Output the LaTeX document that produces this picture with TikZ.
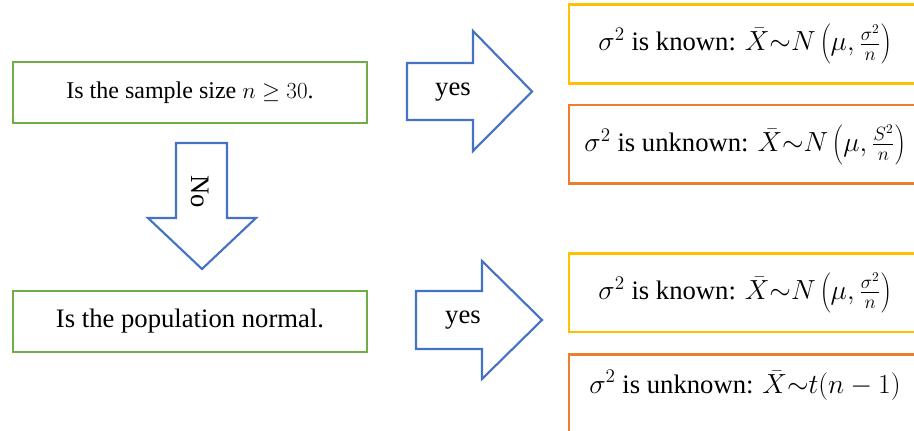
\documentclass[tikz,border=0pt]{standalone}
\usepackage{fontspec}
\setmainfont{Liberation Serif}[Ligatures=TeX]
\newfontfamily\timesfont{Liberation Serif}
\definecolor{bxgreen}{HTML}{70AD47}
\definecolor{bxyellow}{HTML}{FFC000}
\definecolor{bxorange}{HTML}{ED7D31}
\definecolor{arblue}{HTML}{4472C4}
\tikzset{
  gbox/.style={draw=bxgreen, line width=2pt, minimum width=265.5pt, minimum height=45.75pt, inner sep=0pt, font=\timesfont\fontsize{20}{24}\selectfont},
  ybox/.style={draw=bxyellow, line width=2pt, minimum width=264pt, minimum height=59pt, inner sep=0pt, font=\timesfont\fontsize{20}{24}\selectfont},
  obox/.style={draw=bxorange, line width=2pt, minimum width=264pt, minimum height=59pt, inner sep=0pt, font=\timesfont\fontsize{20}{24}\selectfont},
  blockarrow/.style={draw=arblue, line width=1.6pt, line join=miter, fill=white},
  lbl/.style={inner sep=0pt, font=\timesfont\fontsize{20}{24}\selectfont},
}
\begin{document}
\begin{tikzpicture}[x=0.75pt, y=-0.75pt]
\useasboundingbox (0,0) rectangle (914,431);
\clip (0,0) rectangle (914,431);
% left boxes
\node[gbox, font=\timesfont\fontsize{18}{22}\selectfont] (q1) at (190,92.5) {Is the sample size $n \geq 30$.};
\node[gbox] (q2) at (190,321.5) {Is the population normal.};
% right boxes
\node[ybox] (a) at (745,44) {$\sigma^2$ is known: $\bar{X}{\sim}N\left(\mu,\frac{\sigma^2}{n}\right)$};
\node[obox] (b) at (745,144.5) {$\sigma^2$ is unknown: $\bar{X}{\sim}N\left(\mu,\frac{S^2}{n}\right)$};
\node[ybox] (c) at (745,292.5) {$\sigma^2$ is known: $\bar{X}{\sim}N\left(\mu,\frac{\sigma^2}{n}\right)$};
\node[obox, anchor=north, minimum height=0pt, text height=29pt, text depth=46pt] (d) at (745,353) {$\sigma^2$ is unknown: $\bar{X}{\sim}t(n-1)$};
% block arrows
\draw[blockarrow] (407,63) -- (473,63) -- (473,31) -- (532,91.5) -- (473,151) -- (473,120) -- (407,120) -- cycle;
\node[lbl] (y1) at (453,92) {yes};
\draw[blockarrow] (176,143) -- (227,143) -- (227,218) -- (256,218) -- (202,269) -- (148,218) -- (176,218) -- cycle;
\node[lbl, rotate=-90] (no) at (200,192) {No};
\draw[blockarrow] (416,291) -- (482,291) -- (482,261) -- (542,320) -- (482,379) -- (482,349) -- (416,349) -- cycle;
\node[lbl] (y2) at (463,320) {yes};
\end{tikzpicture}
\end{document}
